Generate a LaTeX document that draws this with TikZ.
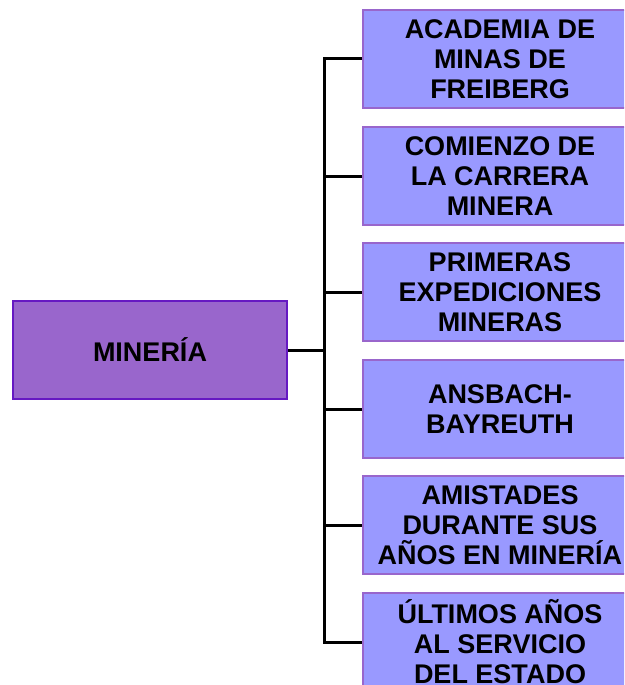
\documentclass[tikz,border=0pt]{standalone}
\usepackage{fontspec}
\setmainfont{Liberation Sans}
\definecolor{mainfill}{HTML}{9966CC}
\definecolor{mainline}{HTML}{6619C2}
\definecolor{boxfill}{HTML}{9999FF}
\definecolor{boxline}{HTML}{9966CC}
\tikzset{
	mainbox/.style={draw=mainline, fill=mainfill, line width=2pt, minimum width=274pt, minimum height=98pt, align=center, inner sep=0pt},
	subbox/.style={draw=boxline, fill=boxfill, line width=2pt, minimum width=274pt, minimum height=98pt, align=center, inner sep=0pt},
	link/.style={line width=3pt}
}
\begin{document}
\begin{tikzpicture}[x=1pt, y=-1pt, font=\fontsize{27pt}{30pt}\selectfont\bfseries]
	\useasboundingbox (0,0) rectangle (624,685);
	\clip (0,0) rectangle (624,685);

	\node[mainbox] (mineria) at (150,350) {MINERÍA};

	\node[subbox] (freiberg) at (500,59) {ACADEMIA DE\\MINAS DE\\FREIBERG};
	\node[subbox] (carrera) at (500,176) {COMIENZO DE\\LA CARRERA\\MINERA};
	\node[subbox] (expedic) at (500,292) {PRIMERAS\\EXPEDICIONES\\MINERAS};
	\node[subbox] (ansbach) at (500,409) {ANSBACH-\\BAYREUTH};
	\node[subbox] (amistad) at (500,525) {AMISTADES\\DURANTE SUS\\AÑOS EN MINERÍA};
	\node[subbox] (ultimos) at (500,642) {ÚLTIMOS AÑOS\\AL SERVICIO\\DEL ESTADO};

	\coordinate (spine) at (324,350);
	\draw[link] (mineria.east) -- (spine);
	\draw[link] (freiberg.west) -| (spine) |- (ultimos.west);
	\draw[link] (carrera.west) -- (carrera.west -| spine);
	\draw[link] (expedic.west) -- (expedic.west -| spine);
	\draw[link] (ansbach.west) -- (ansbach.west -| spine);
	\draw[link] (amistad.west) -- (amistad.west -| spine);
\end{tikzpicture}
\end{document}
